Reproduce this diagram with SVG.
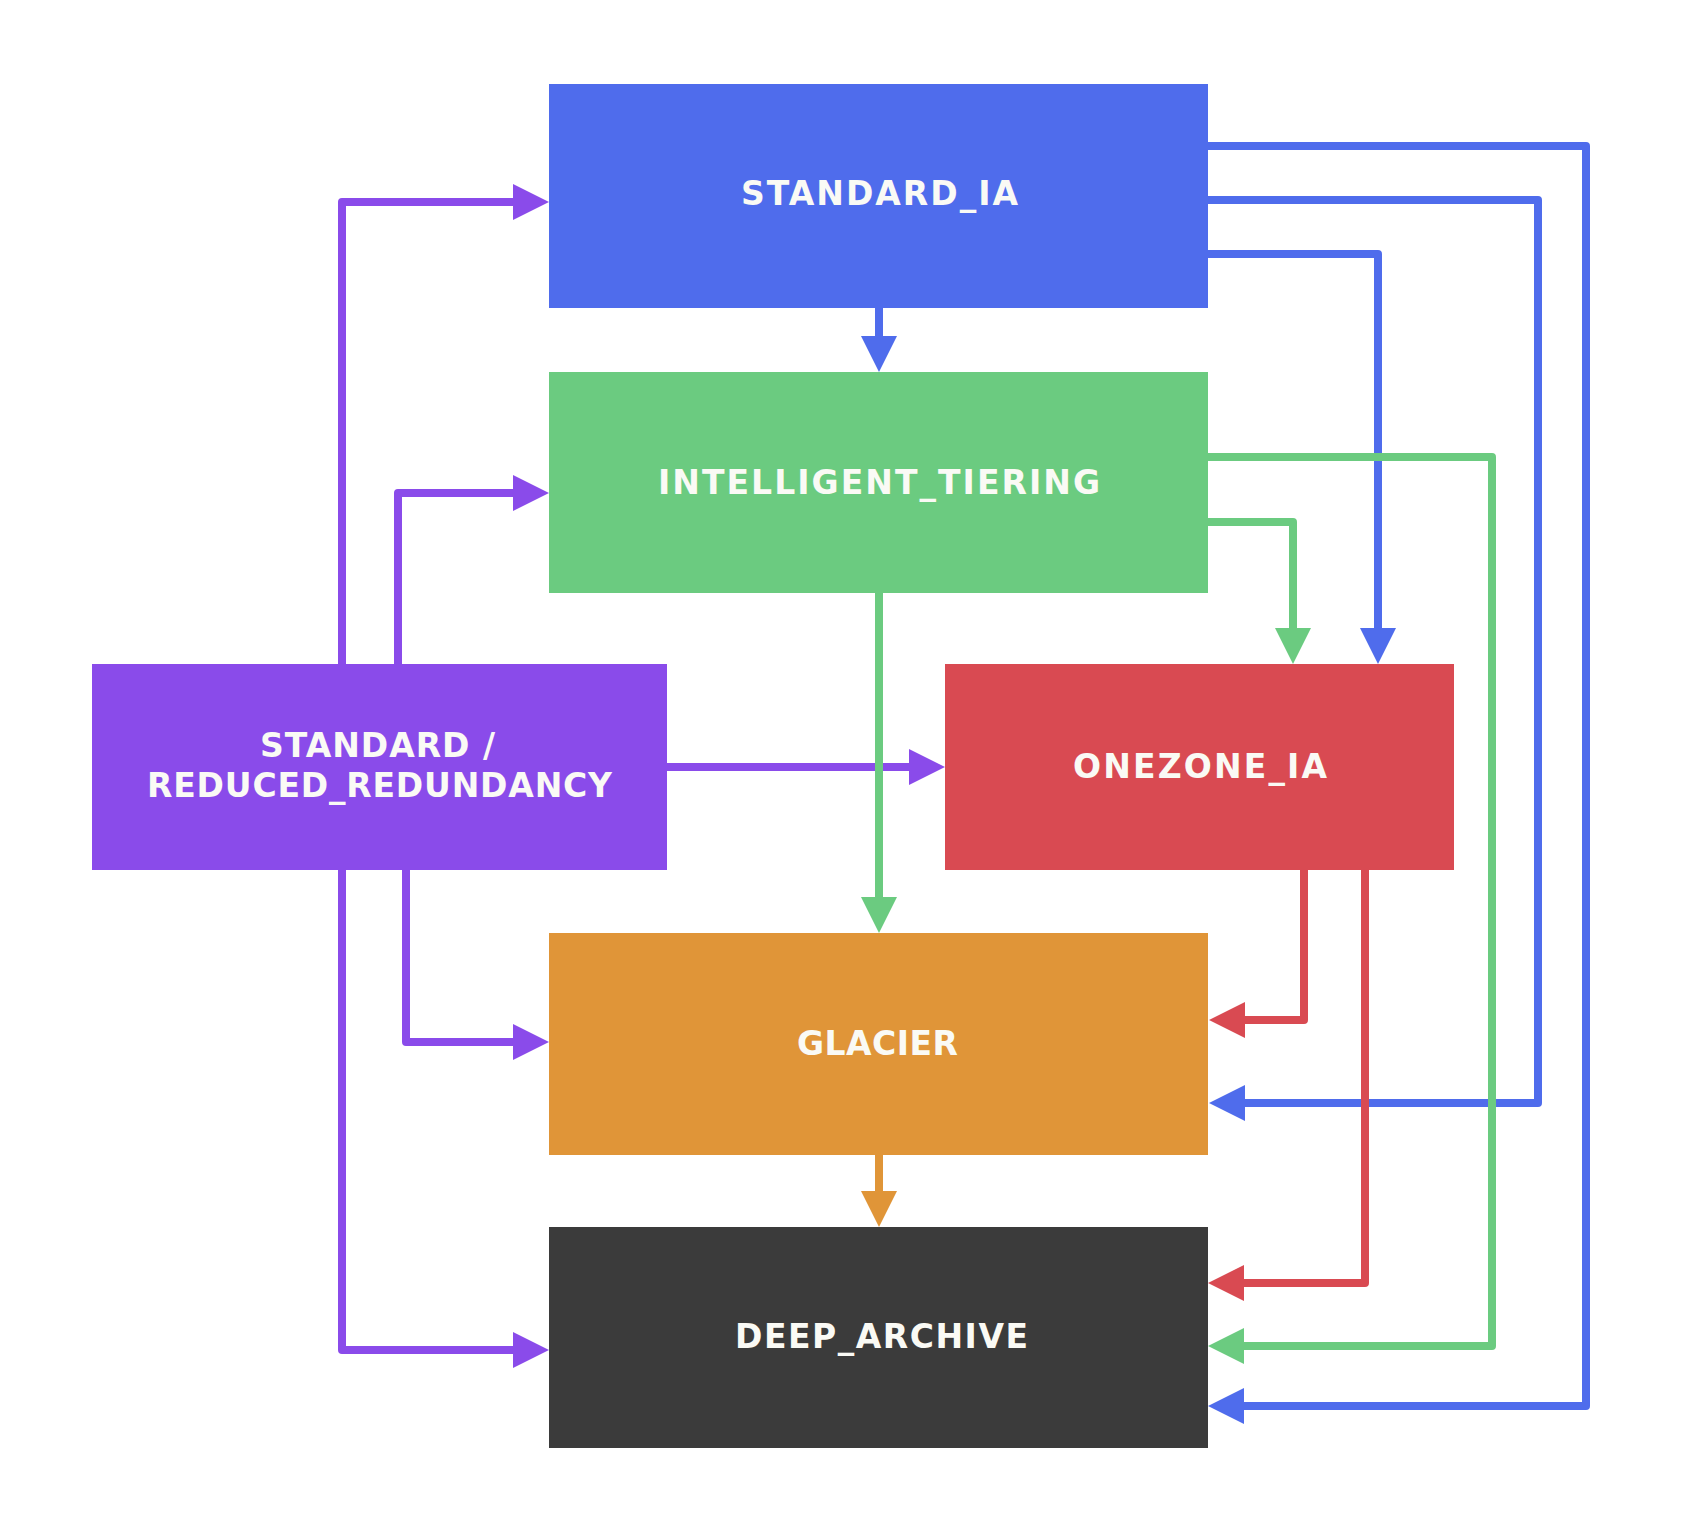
<svg xmlns="http://www.w3.org/2000/svg" width="1696" height="1518" viewBox="0 0 1696 1518">
<style>
.lbl{font-family:"DejaVu Sans","Verdana","Liberation Sans",sans-serif;font-weight:bold;font-size:33px;fill:#FAFAF5;text-anchor:middle}
.e{fill:none;stroke-width:8;stroke-linejoin:round}
.pu{stroke:#8A4BEA}.bl{stroke:#4F6CEC}.gr{stroke:#6BCB80}.rd{stroke:#D94A52}.or{stroke:#E09538}
</style>
<defs>
<marker id="apu" markerUnits="userSpaceOnUse" markerWidth="37" markerHeight="37" refX="0" refY="18" orient="auto"><path d="M0,0L36,18L0,36z" fill="#8A4BEA"/></marker>
<marker id="abl" markerUnits="userSpaceOnUse" markerWidth="37" markerHeight="37" refX="0" refY="18" orient="auto"><path d="M0,0L36,18L0,36z" fill="#4F6CEC"/></marker>
<marker id="agr" markerUnits="userSpaceOnUse" markerWidth="37" markerHeight="37" refX="0" refY="18" orient="auto"><path d="M0,0L36,18L0,36z" fill="#6BCB80"/></marker>
<marker id="ard" markerUnits="userSpaceOnUse" markerWidth="37" markerHeight="37" refX="0" refY="18" orient="auto"><path d="M0,0L36,18L0,36z" fill="#D94A52"/></marker>
<marker id="aor" markerUnits="userSpaceOnUse" markerWidth="37" markerHeight="37" refX="0" refY="18" orient="auto"><path d="M0,0L36,18L0,36z" fill="#E09538"/></marker>
</defs>
<rect width="1696" height="1518" fill="#FFFFFF"/>
<g id="connectors">
<path class="e pu" d="M342,664V202H513" marker-end="url(#apu)"/>
<path class="e pu" d="M398,664V493H513" marker-end="url(#apu)"/>
<path class="e pu" d="M667,767H909" marker-end="url(#apu)"/>
<path class="e pu" d="M406,870V1042H513" marker-end="url(#apu)"/>
<path class="e pu" d="M342,870V1350H513" marker-end="url(#apu)"/>
<path class="e bl" d="M1208,146H1586V1406H1244" marker-end="url(#abl)"/>
<path class="e bl" d="M1208,200H1538V1103H1245" marker-end="url(#abl)"/>
<path class="e bl" d="M1208,254H1378V628" marker-end="url(#abl)"/>
<path class="e bl" d="M879,308V336" marker-end="url(#abl)"/>
<path class="e gr" d="M1208,457H1492V1346H1244" marker-end="url(#agr)"/>
<path class="e gr" d="M1208,522H1293V628" marker-end="url(#agr)"/>
<path class="e gr" d="M879,593V897" marker-end="url(#agr)"/>
<path class="e rd" d="M1304,870V1020H1245" marker-end="url(#ard)"/>
<path class="e rd" d="M1365,870V1283H1244" marker-end="url(#ard)"/>
<path class="e or" d="M879,1155V1191" marker-end="url(#aor)"/>
</g>
<g id="standard_ia">
<rect x="549" y="84" width="659" height="224" fill="#4F6CEC"/>
<text class="lbl" x="879.5" y="205" textLength="277" lengthAdjust="spacing">STANDARD_IA</text>
</g>
<g id="intelligent_tiering">
<rect x="549" y="372" width="659" height="221" fill="#6BCB80"/>
<text class="lbl" x="879" y="494" textLength="442" lengthAdjust="spacing">INTELLIGENT_TIERING</text>
</g>
<g id="standard_rr">
<rect x="92" y="664" width="575" height="206" fill="#8A4BEA"/>
<text class="lbl" x="377.5" y="757" textLength="235" lengthAdjust="spacing">STANDARD /</text>
<text class="lbl" x="379.5" y="797" textLength="465" lengthAdjust="spacing">REDUCED_REDUNDANCY</text>
</g>
<g id="onezone_ia">
<rect x="945" y="664" width="509" height="206" fill="#D94A52"/>
<text class="lbl" x="1200" y="778" textLength="254" lengthAdjust="spacing">ONEZONE_IA</text>
</g>
<g id="glacier">
<rect x="549" y="933" width="659" height="222" fill="#E09538"/>
<text class="lbl" x="877.5" y="1055" textLength="161" lengthAdjust="spacing">GLACIER</text>
</g>
<g id="deep_archive">
<rect x="549" y="1227" width="659" height="221" fill="#3B3B3B"/>
<text class="lbl" x="881.5" y="1348" textLength="293" lengthAdjust="spacing">DEEP_ARCHIVE</text>
</g>
</svg>
